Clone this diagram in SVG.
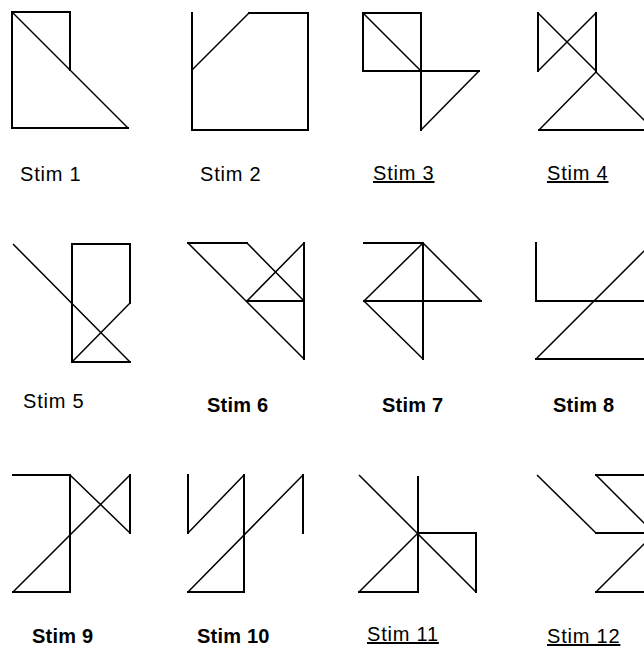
<svg xmlns="http://www.w3.org/2000/svg" width="644" height="646" viewBox="0 0 644 646">
<style>
.s{fill:none;stroke:#000;stroke-width:2;stroke-linecap:square}
.d{fill:none;stroke:#000;stroke-width:1.5}
text{font-family:"Liberation Sans",Arial,sans-serif;font-size:20px;letter-spacing:0.8px;fill:#000}
.b{font-weight:bold;letter-spacing:0.2px}
.u{text-decoration:underline}
</style>
<rect width="644" height="646" fill="#fff"/>
<g id="stim1">
<path class="s" d="M12,12H70V70M12,12V128H128"/>
<path class="d" d="M12,12L128,128"/>
<text x="20" y="181">Stim 1</text>
</g>
<g id="stim2">
<path class="s" d="M192,13V130H308V13H249"/>
<path class="d" d="M192,70L249,13"/>
<text x="200" y="181">Stim 2</text>
</g>
<g id="stim3">
<path class="s" d="M363,13H421V71H363ZM421,71H479M421,71V130"/>
<path class="d" d="M363,13L421,71M479,71L421,130"/>
<text class="u" x="373" y="180">Stim 3</text>
</g>
<g id="stim4">
<path class="s" d="M538,13V71M596,13V71M539,130H650"/>
<path class="d" d="M538,13L596,71M596,13L538,71M596,72L539,130M596,72L654,130"/>
<text class="u" x="547" y="180">Stim 4</text>
</g>
<g id="stim5">
<path class="s" d="M72,362V244H130V303M72,362H130"/>
<path class="d" d="M13,244L130,362M130,303L72,362"/>
<text x="23" y="408">Stim 5</text>
</g>
<g id="stim6">
<path class="s" d="M188,243H247M304,243V359M247,301H304"/>
<path class="d" d="M188,243L304,359M247,243L304,301M247,301L304,243"/>
<text class="b" x="207" y="412">Stim 6</text>
</g>
<g id="stim7">
<path class="s" d="M364,243H423V359M364,301H481"/>
<path class="d" d="M423,243L481,301M423,243L364,301L423,359"/>
<text class="b" x="382" y="412">Stim 7</text>
</g>
<g id="stim8">
<path class="s" d="M536,243V301H650M536,359H650"/>
<path class="d" d="M536,359L652,243"/>
<text class="b" x="553" y="412">Stim 8</text>
</g>
<g id="stim9">
<path class="s" d="M13,475H70V592H13M130,475V533"/>
<path class="d" d="M70,475L130,533M130,475L13,592"/>
<text class="b" x="32" y="643">Stim 9</text>
</g>
<g id="stim10">
<path class="s" d="M188,475V533M244,475V592H188M303,475V533"/>
<path class="d" d="M188,533L244,475M188,592L303,475"/>
<text class="b" x="197" y="643">Stim 10</text>
</g>
<g id="stim11">
<path class="s" d="M418,477V592H359M418,533H476V592"/>
<path class="d" d="M359,475L476,592M418,533L359,592"/>
<text class="u" x="367" y="641">Stim 11</text>
</g>
<g id="stim12">
<path class="s" d="M596,475H650M596,533H650M596,592H650"/>
<path class="d" d="M537,475L596,533M596,475L654,533M596,592L654,534"/>
<text class="u" x="547" y="643">Stim 12</text>
</g>
</svg>
